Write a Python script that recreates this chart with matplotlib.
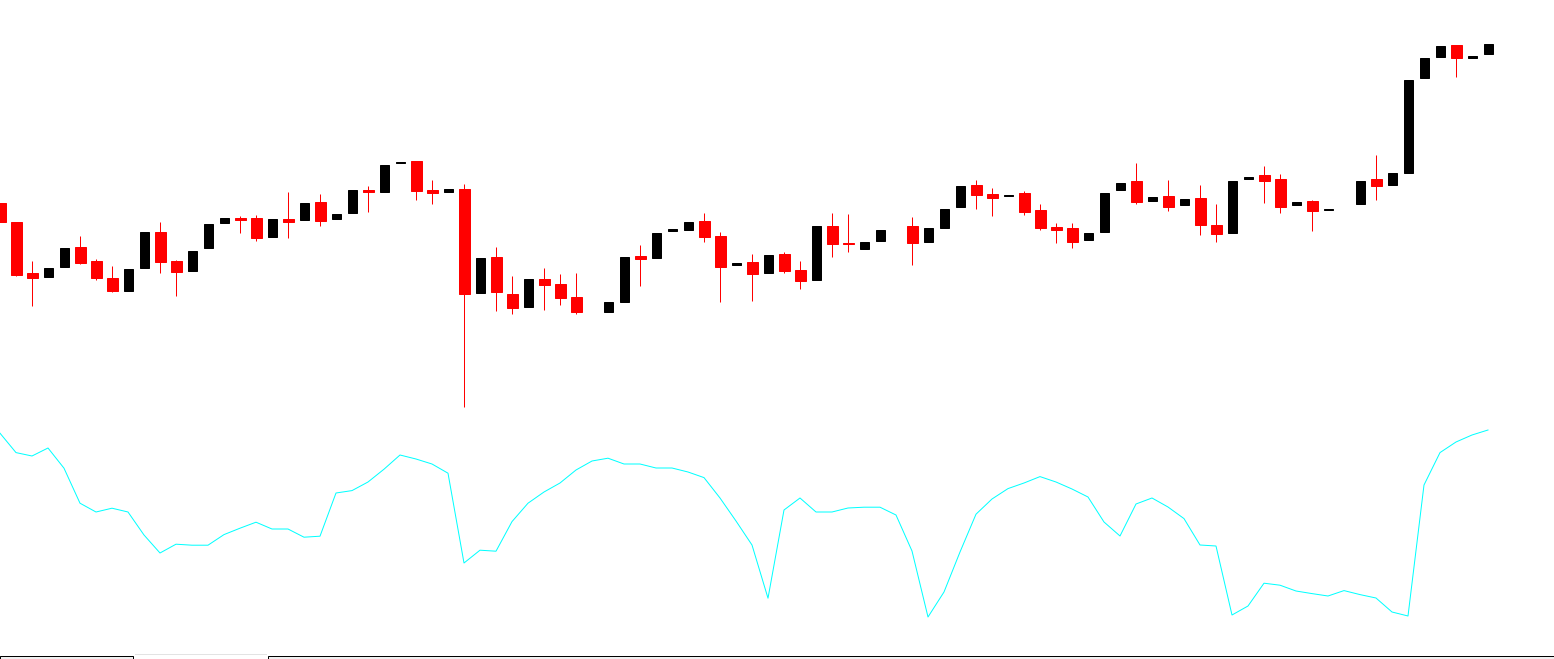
import numpy as np
import matplotlib.pyplot as plt
from matplotlib.patches import Rectangle

# candle data (price in points), None = no bar
open_ = [247, 228, 177, 173, 183, 203, 189, 172, 159, 182, 218, 189, 179, 202, 227, 232,
         232, 213, 231, 230, 248, 231, 237, 260, 258, 287, 289, 260, 258, 261, 157, 193,
         156, 143, 171, 166, 153, None, 138, 148, 194, 192, 219, 220, 229, 214, 185, 188,
         177, 196, 180, 170, 224, 207, 201, 209, None, 224, 208, 222, 243, 265, 256, 254,
         257, 240, 223, 222, 210, 218, 260, 269, 249, 254, 245, 252, 225, 217, 271, 275,
         271, 245, 249, 240, None, 246, 271, 265, 277, 372, 393, 405, 392, 396]
high = [247, 228, 189, 182, 202, 214, 191, 184, 181, 218, 228, 190, 199, 226, 232, 234,
        235, 231, 258, 247, 256, 236, 260, 264, 285, 288, 289, 270, 261, 266, 192, 203,
        174, 171, 182, 176, 177, None, 148, 193, 205, 217, 221, 228, 237, 218, 187, 196,
        195, 198, 189, 224, 237, 236, 208, 220, None, 233, 222, 241, 264, 270, 262, 255,
        259, 246, 227, 227, 217, 257, 267, 287, 253, 270, 251, 265, 246, 269, 273, 284,
        276, 248, 250, 241, None, 269, 295, 277, 370, 392, 404, 405, 394, 406]
low = [228, 174, 144, 173, 183, 186, 170, 158, 159, 182, 177, 154, 179, 202, 227, 217,
       209, 213, 212, 230, 224, 231, 237, 238, 258, 287, 250, 246, 258, 43, 157, 139,
       136, 143, 140, 145, 136, None, 138, 148, 164, 192, 219, 220, 208, 148, 185, 149,
       177, 177, 161, 170, 193, 198, 201, 209, None, 185, 208, 222, 243, 241, 234, 254,
       235, 220, 207, 202, 210, 218, 260, 246, 249, 239, 245, 215, 208, 217, 271, 247,
       237, 245, 219, 240, None, 246, 250, 265, 277, 372, 393, 373, 392, 396]
close = [228, 175, 172, 182, 202, 187, 172, 159, 181, 218, 188, 178, 199, 226, 232, 230,
         212, 231, 228, 247, 229, 236, 260, 258, 285, 288, 259, 257, 261, 156, 192, 158,
         142, 171, 165, 152, 138, None, 148, 193, 191, 217, 221, 228, 213, 183, 187, 176,
         195, 179, 169, 224, 206, 206, 208, 220, None, 207, 222, 241, 264, 255, 252, 255,
         238, 222, 220, 208, 217, 257, 267, 248, 253, 243, 251, 225, 216, 269, 273, 269,
         243, 248, 239, 241, None, 269, 264, 277, 370, 392, 404, 392, 394, 406]

# oscillator values (0-100)
osc = [98.4, 88.7, 87.0, 91.0, 80.9, 63.4, 59.0, 60.9, 59.0, 47.5, 38.5, 42.9, 42.4, 42.4,
       47.7, 50.9, 53.9, 50.5, 50.5, 46.4, 46.9, 68.5, 69.7, 74.0, 80.4, 87.5, 85.5, 83.0,
       78.4, 33.5, 39.9, 39.4, 54.2, 63.4, 69.0, 73.5, 80.0, 84.5, 85.9, 83.0, 83.0, 81.0,
       81.0, 79.0, 76.2, 66.0, 54.5, 42.5, 15.9, 60.0, 66.0, 59.0, 59.0, 61.0, 61.4, 61.4,
       57.5, 39.5, 6.5, 19.0, 39.0, 57.9, 65.5, 70.7, 73.5, 76.7, 74.0, 70.5, 66.5, 54.0,
       47.0, 63.0, 66.0, 61.5, 55.7, 42.5, 42.0, 7.5, 12.0, 23.4, 22.4, 19.5, 18.2, 17.0,
       19.7, 17.7, 16.0, 9.0, 7.0, 72.5, 88.7, 94.0, 97.5, 100.0]

o = np.array(open_, dtype=float)
h = np.array(high, dtype=float)
l = np.array(low, dtype=float)
c = np.array(close, dtype=float)
x = np.arange(len(o))
bull = c > o
bear = c < o
doji = c == o

W, H = 1554, 659
fig = plt.figure(figsize=(W / 100, H / 100), dpi=100)
fig.patch.set_facecolor('white')

px = 0.72  # one pixel in points

# price pane
ax = fig.add_axes([0, 1 - 415 / H, 1, 415 / H])
ax.set_xlim(0, W / 16)
ax.set_ylim(35, 450)
ax.axis('off')

ax.vlines(x[bear], l[bear], h[bear], color='red', linewidth=px)
ax.bar(x[bear], (c - o)[bear], bottom=o[bear], width=11 / 16,
       color='red', edgecolor='red', linewidth=px)
ax.bar(x[bull | doji], (c - o)[bull | doji], bottom=o[bull | doji], width=9 / 16,
       color='black', edgecolor='black', linewidth=px)

# oscillator pane
ax2 = fig.add_axes([0, 1 - 640 / H, 1, 220 / H])
ax2.set_xlim(0, W / 16)
ax2.set_ylim(-5, 105)
ax2.axis('off')
ax2.plot(x, osc, color='#00FFFF', linewidth=px)

# tab strip at the bottom
def pix_rect(x0, y0, w, hgt, **kw):
    fig.patches.append(Rectangle((x0 / W, 1 - (y0 + hgt) / H), w / W, hgt / H,
                                 transform=fig.transFigure, **kw))

pix_rect(0, 656, 133, 4, facecolor='#F0F0F0', edgecolor='black', linewidth=px)
pix_rect(135, 654, 132, 1, facecolor='#E3E3E3', edgecolor='none')
pix_rect(268, 656, 1290, 4, facecolor='#F0F0F0', edgecolor='black', linewidth=px)

fig.savefig('out.png', dpi=100)
